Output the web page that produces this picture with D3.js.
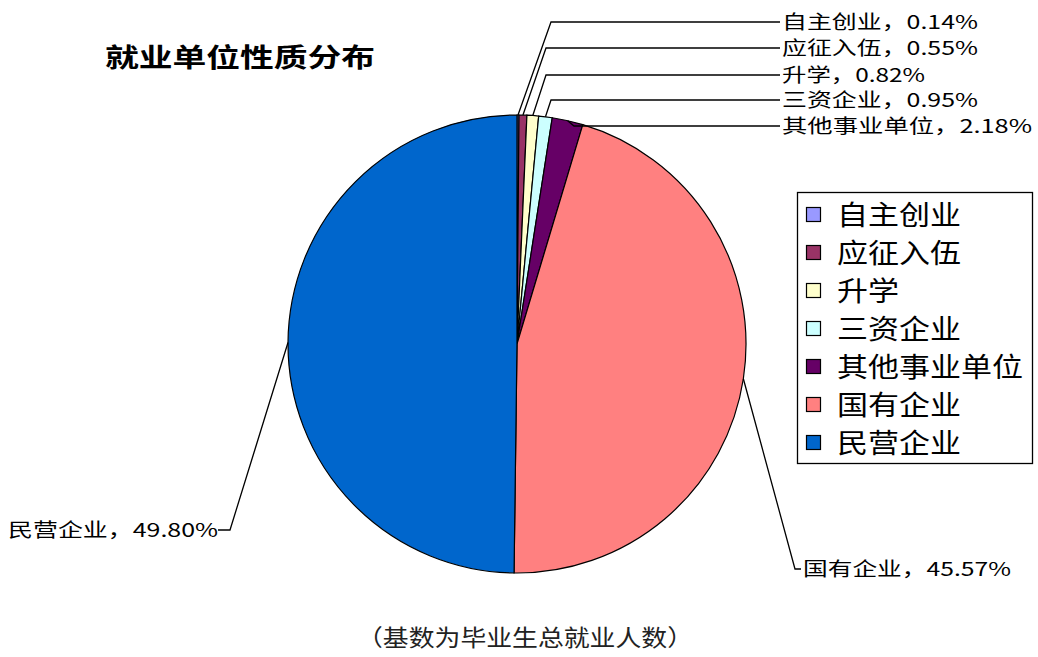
<!DOCTYPE html>
<html><head><meta charset="utf-8">
<script src="https://cdn.jsdelivr.net/npm/d3@7/dist/d3.min.js"></script>
<style>html,body{margin:0;padding:0;background:#fff;}svg{display:block;}</style>
</head><body>
<svg id="chart" width="1038" height="657"></svg>
<script>
const categories = ["自主创业", "应征入伍", "升学", "三资企业", "其他事业单位", "国有企业", "民营企业"];
const values = [0.14, 0.55, 0.82, 0.95, 2.18, 45.57, 49.80];
const colors = ["#9999FF", "#993366", "#FFFFCC", "#CCFFFF", "#660066", "#FF8080", "#0066CC"];
const titleText = "就业单位性质分布";
const captionText = "（基数为毕业生总就业人数）";

const FONT = "'Noto Sans CJK SC', 'DejaVu Sans', sans-serif";
const svg = d3.select("#chart");
const cx = 517, cy = 344, R = 229;

const pie = d3.pie().sort(null).value(d => d)
  .startAngle(0).endAngle(2 * Math.PI);
const arcs = pie(values);
const arc = d3.arc().innerRadius(0).outerRadius(R);

const g = svg.append("g").attr("transform", `translate(${cx},${cy})`);
g.selectAll("path").data(arcs).enter().append("path")
  .attr("d", arc)
  .attr("fill", (d, i) => colors[i])
  .attr("stroke", "#000").attr("stroke-width", 1.2);

// title
svg.append("text").attr("x", 105).attr("y", 67)
  .attr("font-family", FONT).attr("font-weight", "bold").attr("font-size", 26)
  .attr("textLength", 270).attr("lengthAdjust", "spacingAndGlyphs")
  .attr("fill", "#000").text(titleText);

// labels
const fmt = v => v.toFixed(2) + "%";
function edgePoint(d) {
  const a = (d.startAngle + d.endAngle) / 2;
  return [cx + R * Math.sin(a), cy - R * Math.cos(a)];
}
// layout for labels (positions only)
const labelLayout = [
  {x: 782, y: 22, w: 196, elbow: [551, 22], anchor: "start"},
  {x: 782, y: 48, w: 196, elbow: [546, 48], anchor: "start"},
  {x: 782, y: 75, w: 143, elbow: [546, 75], anchor: "start"},
  {x: 782, y: 100, w: 196, elbow: [551, 100], anchor: "start"},
  {x: 782, y: 126, w: 250, elbow: [574, 126], anchor: "start"},
  {x: 803, y: 569, w: 208, elbow: [795, 569], anchor: "start"},
  {x: 8, y: 530, w: 210, elbow: [230, 530], anchor: "start"}
];

arcs.forEach((d, i) => {
  const L = labelLayout[i];
  const p = edgePoint(d);
  let lineStartX = L.anchor === "start" && i !== 6 ? L.x - 2 : L.x + L.w + 0;
  if (i === 6) lineStartX = L.x + L.w;
  const pts = [[lineStartX, L.y], L.elbow, p];
  svg.append("path")
    .attr("d", d3.line()(pts))
    .attr("fill", "none").attr("stroke", "#000").attr("stroke-width", 1.3);
  svg.append("text")
    .attr("x", L.x).attr("y", L.y + 7)
    .attr("font-family", FONT).attr("font-size", 19)
    .attr("textLength", L.w).attr("lengthAdjust", "spacingAndGlyphs")
    .attr("fill", "#000")
    .text(categories[i] + "，" + fmt(values[i]));
});

// legend
const lg = svg.append("g");
lg.append("rect").attr("x", 797.5).attr("y", 192.5).attr("width", 235).attr("height", 271)
  .attr("fill", "#fff").attr("stroke", "#000").attr("stroke-width", 1.3);
const rowY = d3.scaleLinear().domain([0, categories.length - 1]).range([215, 443]);
categories.forEach((c, i) => {
  const y = rowY(i);
  lg.append("rect").attr("x", 806.5).attr("y", y - 7.5).attr("width", 14).attr("height", 14)
    .attr("fill", colors[i]).attr("stroke", "#000").attr("stroke-width", 1.2);
  lg.append("text").attr("x", 837).attr("y", y + 10)
    .attr("font-family", FONT).attr("font-size", 27)
    .attr("textLength", c.length * 31).attr("lengthAdjust", "spacingAndGlyphs")
    .attr("fill", "#000").text(c);
});

// caption
svg.append("text").attr("x", 357).attr("y", 646)
  .attr("font-family", FONT).attr("font-size", 23)
  .attr("textLength", 336).attr("lengthAdjust", "spacingAndGlyphs")
  .attr("fill", "#222").text(captionText);
</script>
</body></html>
